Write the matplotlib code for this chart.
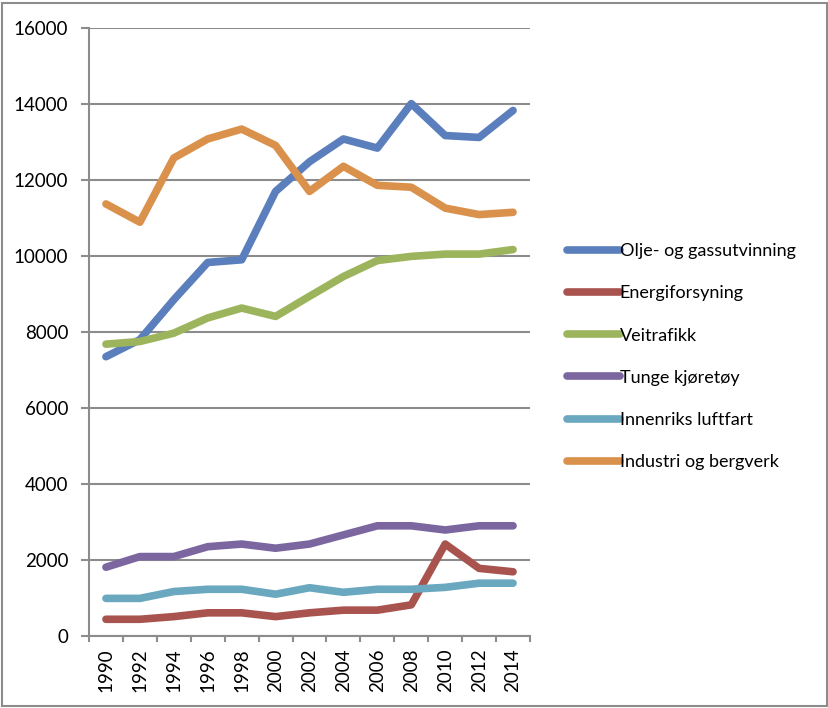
import numpy as np
import matplotlib
matplotlib.use('Agg')
import matplotlib.pyplot as plt
from matplotlib.patches import Rectangle

plt.rcParams['font.family'] = ['Lato', 'DejaVu Sans']
plt.rcParams['font.size'] = 13

years = ['1990', '1992', '1994', '1996', '1998', '2000', '2002',
         '2004', '2006', '2008', '2010', '2012', '2014']

olje = [7350, 7800, 8850, 9830, 9900, 11700, 12480, 13080, 12840, 14010, 13170, 13120, 13830]
energi = [440, 440, 510, 610, 610, 510, 610, 680, 680, 820, 2420, 1780, 1690]
veitrafikk = [7680, 7750, 7970, 8370, 8630, 8410, 8940, 9460, 9880, 9990, 10050, 10050, 10170]
tunge = [1810, 2090, 2090, 2350, 2420, 2310, 2420, 2660, 2900, 2900, 2790, 2900, 2900]
innenriks = [990, 990, 1170, 1230, 1230, 1100, 1270, 1150, 1230, 1230, 1280, 1390, 1390]
industri = [11370, 10890, 12580, 13080, 13340, 12910, 11700, 12360, 11860, 11810, 11260, 11090, 11150]

series = [
    ('Olje- og gassutvinning', olje, '#5b7ebc'),
    ('Energiforsyning', energi, '#a9534f'),
    ('Veitrafikk', veitrafikk, '#9cb55c'),
    ('Tunge kjøretøy', tunge, '#7c66a0'),
    ('Innenriks luftfart', innenriks, '#6aa8c0'),
    ('Industri og bergverk', industri, '#d9914b'),
]

fig = plt.figure(figsize=(8.29, 7.08), dpi=100)
ax = fig.add_axes([89/829, 1 - 636/708, (530-89)/829, (636-28)/708])

x = np.arange(len(years))
for name, vals, col in series:
    ax.plot(x, vals, color=col, lw=5.5, solid_capstyle='round',
            solid_joinstyle='round', label=name)

grid_col = '#8c8c8c'
ax.set_ylim(0, 16000)
ax.set_yticks(np.arange(0, 16001, 2000))
ax.yaxis.grid(True, color=grid_col, lw=1.5)
ax.set_axisbelow(True)
ax.set_xlim(-0.5, len(years) - 0.5)
ax.set_xticks(np.arange(-0.5, len(years), 1.0))
ax.set_xticklabels([])
ax.set_xticks(x, minor=True)
ax.set_xticklabels(years, minor=True, rotation=90, fontsize=13.5)
ax.tick_params(axis='x', which='minor', length=0, pad=9)
ax.tick_params(axis='x', which='major', length=4.5, width=1.5, color=grid_col)
ax.tick_params(axis='y', length=6, width=1.5, color=grid_col, pad=9,
               labelsize=13.5)

for s in ['top', 'right']:
    ax.spines[s].set_visible(False)
for s in ['left', 'bottom']:
    ax.spines[s].set_color(grid_col)
    ax.spines[s].set_linewidth(1.5)

leg = fig.legend(loc='upper left', bbox_to_anchor=(560/829, 1 - 236/708),
                 frameon=False, handlelength=2.9, handletextpad=0.0,
                 labelspacing=1.45, borderaxespad=0)

fig.patches.append(Rectangle((2/829, 2/708), 825/829, 703/708,
                             transform=fig.transFigure, fill=False,
                             edgecolor='#8c8c8c', lw=1.5))

fig.savefig('out.png', dpi=100)
